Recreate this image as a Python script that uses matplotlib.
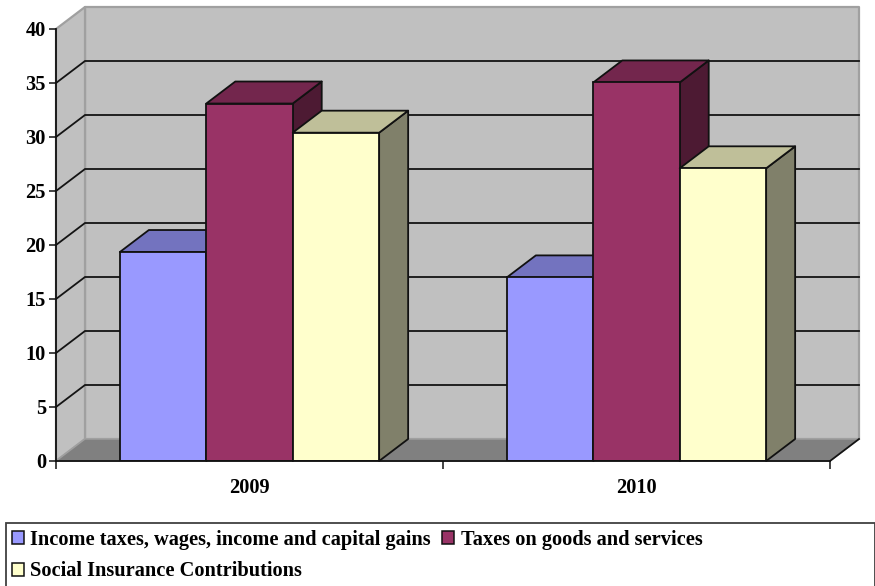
import matplotlib
matplotlib.use("Agg")
import matplotlib.pyplot as plt
from matplotlib.patches import Patch, Polygon, Rectangle

# Revenue shares by year
years = ["2009", "2010"]
income_taxes = [19.35, 17.0]
goods_taxes = [33.1, 35.05]
social_contributions = [30.4, 27.1]
series_names = [
    "Income taxes, wages, income and capital gains",
    "Taxes on goods and services",
    "Social Insurance Contributions",
]
y_ticks = [0, 5, 10, 15, 20, 25, 30, 35, 40]

W, H = 875, 586
SERIF = "Liberation Serif"

# Style table: front, top and side face of each extruded column
faces = [
    ("#9999FF", "#7373BF", "#4D4D80"),
    ("#993366", "#73264D", "#4D1A33"),
    ("#FFFFCC", "#BFBF99", "#80806A"),
]
WALL = "#C0C0C0"
FLOOR = "#808080"
RIM = "#A0A0A0"

fig = plt.figure(figsize=(W / 100, H / 100), dpi=100, facecolor="white")
ax = fig.add_axes([56 / W, 1 - 461 / H, (830 - 56) / W, (461 - 29) / H])
ax.set_xlim(0, len(years))
ax.set_ylim(0, 40)
ax.patch.set_visible(False)

# Oblique depth of the box, in axis units
DX = 29 / 387
DY = 22 / 10.8
x_max = len(years)


def poly(points, face, edge="none", lw=0, z=1):
    ax.add_patch(Polygon(points, closed=True, facecolor=face, edgecolor=edge,
                         linewidth=lw, zorder=z, clip_on=False, joinstyle="round"))


# Back wall, side wall and floor
poly([(DX, DY), (x_max + DX, DY), (x_max + DX, 40 + DY), (DX, 40 + DY)], WALL, RIM, 1.6)
poly([(0, 0), (DX, DY), (DX, 40 + DY), (0, 40)], WALL, RIM, 1.6)
poly([(0, 0), (x_max, 0), (x_max + DX, DY), (DX, DY)], FLOOR, RIM, 1.0)

# Gridlines run along the side wall and across the back wall
for v in y_ticks[1:-1]:
    ax.plot([0, DX, x_max + DX], [v, v + DY, v + DY], color="#141414", lw=1.3,
            zorder=2, clip_on=False, solid_joinstyle="miter")
ax.plot([x_max, x_max + DX], [0, DY], color="#141414", lw=1.3, zorder=2, clip_on=False)

# Columns, left to right so each one overlaps its neighbour's side
GAP = 0.165
BAR_W = (1 - 2 * GAP) / 3
columns = [income_taxes, goods_taxes, social_contributions]
z = 3
for i in range(len(years)):
    for j, values in enumerate(columns):
        front, top, side = faces[j]
        x0 = i + GAP + j * BAR_W
        x1 = x0 + BAR_W
        h = values[i]
        poly([(x1, 0), (x1 + DX, DY), (x1 + DX, h + DY), (x1, h)], side, "#111111", 1.3, z)
        poly([(x0, h), (x1, h), (x1 + DX, h + DY), (x0 + DX, h + DY)], top, "#111111", 1.3, z)
        ax.bar(x0, h, width=BAR_W, align="edge", color=front, edgecolor="#111111",
               linewidth=1.3, zorder=z)
        z += 1

# Axes
for name in ("top", "right"):
    ax.spines[name].set_visible(False)
for name in ("left", "bottom"):
    ax.spines[name].set_linewidth(1.3)
    ax.spines[name].set_color("#111111")
    ax.spines[name].set_zorder(20)
ax.set_yticks(y_ticks)
ax.set_yticklabels([str(v) for v in y_ticks], fontfamily=SERIF, fontweight="bold", fontsize=14.7)
ax.set_xticks(range(len(years) + 1))
ax.set_xticklabels([])
ax.set_xticks([i + 0.5 for i in range(len(years))], minor=True)
ax.set_xticklabels(years, minor=True, fontfamily=SERIF, fontweight="bold", fontsize=14.7)
ax.tick_params(axis="y", length=5.2, width=1.1, pad=2, color="#111111")
ax.tick_params(axis="x", which="major", length=5.8, width=1.1, color="#111111")
ax.tick_params(axis="x", which="minor", length=0, pad=12)

# Legend box runs off the bottom of the figure
fig.patches.append(Rectangle((5.5 / W, -0.05), (W - 6) / W, 1 - 523 / H + 0.05,
                             transform=fig.transFigure, facecolor="white",
                             edgecolor="#404040", linewidth=1.3))
handles = [Patch(facecolor=faces[k][0], edgecolor="#111111", linewidth=1.1) for k in (0, 2, 1)]
labels = [series_names[k] for k in (0, 2, 1)]
fig.legend(handles, labels, loc="upper left", bbox_to_anchor=(12 / W, 1 - 530 / H),
           ncol=2, frameon=False, borderpad=0, borderaxespad=0,
           prop={"family": SERIF, "weight": "bold", "size": 14.7},
           handlelength=0.6, handleheight=0.6, handletextpad=0.3,
           labelspacing=0.56, columnspacing=0.55)

fig.savefig("out.png", dpi=100, facecolor="white")
